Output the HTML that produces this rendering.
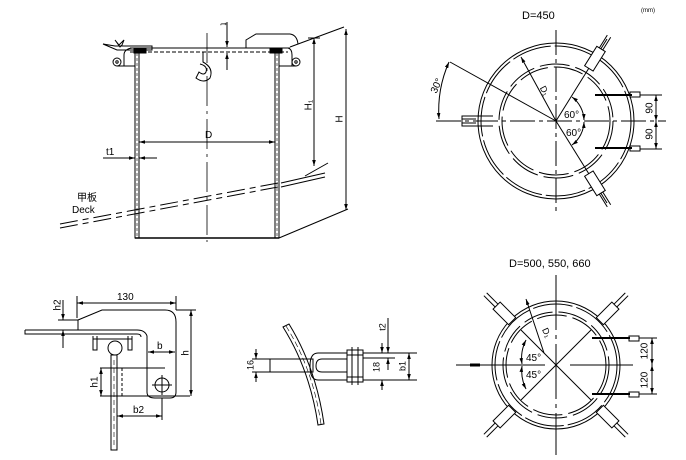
<!DOCTYPE html>
<html><head><meta charset="utf-8"><style>
html,body{margin:0;padding:0;background:#fff;}
svg{display:block;}
text{font-family:"Liberation Sans","Noto Sans CJK SC",sans-serif;fill:#000;}
.r{text-anchor:middle;dominant-baseline:middle;}
</style></head><body>
<svg width="686" height="460" viewBox="0 0 686 460" xmlns="http://www.w3.org/2000/svg">
<defs>
<marker id="a" viewBox="0 0 10 10" refX="10" refY="5" markerWidth="6" markerHeight="6" orient="auto-start-reverse"><path d="M0,2 L10,5 L0,8 z" fill="#000"/></marker>
</defs>
<g stroke="#000" fill="none" stroke-width="1">
<text x="641" y="12" font-size="6" stroke="none">(mm)</text>
<!-- lid -->
<path d="M124,66 L124,55 Q124,49 132,48 L288,48 Q292,49 292,55 L292,66"/>
<line x1="130" y1="52" x2="288" y2="52" stroke-dasharray="4,2"/>
<line x1="130" y1="48" x2="290" y2="48"/>
<rect x="134" y="49" width="12" height="4" fill="#000"/>
<rect x="270" y="49" width="12" height="4" fill="#000"/>
<path d="M103,44 L117,50 L152,50 L152,46 L115,46 Z"/>
<path d="M115,40 L119,45 L124,40 L122,45 L120,47 Z"/>
<circle cx="117" cy="62" r="4"/><circle cx="117" cy="62" r="1.2"/>
<line x1="117" y1="66" x2="136" y2="66"/>
<circle cx="296" cy="62" r="4"/><circle cx="296" cy="62" r="1.2"/>
<line x1="276" y1="66" x2="296" y2="66"/>
<path d="M246,48 L246,40 L256,34 L290,34 Q297,35 298,44"/>
<rect x="135" y="53" width="4" height="185" fill="#fff"/>
<line x1="137" y1="53" x2="137" y2="238" stroke-dasharray="3,2" stroke-width="0.6"/>
<rect x="275" y="53" width="4" height="185" fill="#fff"/>
<line x1="277" y1="53" x2="277" y2="238" stroke-dasharray="3,2" stroke-width="0.6"/>
<line x1="135" y1="238" x2="279" y2="238" stroke-width="1.5"/>
<line x1="207" y1="33" x2="207" y2="242" stroke-dasharray="30,5,3,5" stroke-width="0.8"/>
<path d="M203,52 L203,62 Q214,68 210,78 Q204,84 196,78 L199,72 Q204,76 206,72 Q208,66 200,64"/>
<line x1="227" y1="22" x2="227" y2="47" marker-end="url(#a)"/>
<line x1="227" y1="70" x2="227" y2="53" marker-end="url(#a)"/>
<text class="r" x="223" y="24" font-size="9" stroke="none" transform="rotate(90 223 24)">t</text>
<line x1="139" y1="142" x2="275" y2="142" marker-start="url(#a)" marker-end="url(#a)"/>
<text x="205" y="138" font-size="10" stroke="none">D</text>
<line x1="103" y1="158" x2="135" y2="158" marker-end="url(#a)"/>
<line x1="157" y1="158" x2="139" y2="158" marker-end="url(#a)"/>
<text x="106" y="155" font-size="10" stroke="none">t1</text>
<line x1="290" y1="47" x2="344" y2="27"/>
<line x1="308" y1="38" x2="320" y2="38"/>
<line x1="314" y1="38" x2="314" y2="166" marker-start="url(#a)" marker-end="url(#a)"/>
<line x1="305" y1="176" x2="328" y2="163"/>
<line x1="346" y1="29" x2="346" y2="210" marker-start="url(#a)" marker-end="url(#a)"/>
<line x1="279" y1="238" x2="348" y2="209"/>
<text class="r" x="309" y="105" font-size="10" stroke="none" transform="rotate(-90 309 105)">H₁</text>
<text class="r" x="340" y="119" font-size="10" stroke="none" transform="rotate(-90 340 119)">H</text>
<line x1="60" y1="224" x2="278" y2="183" stroke-dasharray="18,5,6,5"/>
<line x1="60" y1="228" x2="278" y2="187" stroke-dasharray="18,5,6,5"/>
<line x1="281" y1="183" x2="325" y2="173"/>
<line x1="281" y1="187" x2="325" y2="177"/>
<text x="77" y="201" font-size="10" stroke="none">甲板</text>
<text x="72" y="213" font-size="10" stroke="none">Deck</text>

<!-- Circle D=450 -->
<text x="522" y="19" font-size="11" stroke="none">D=450</text>
<circle cx="556" cy="121" r="78"/>
<circle cx="556" cy="121" r="75" stroke-dasharray="40,4"/>
<circle cx="556" cy="121" r="57" stroke-dasharray="30,6"/>
<circle cx="556" cy="121" r="54" stroke-dasharray="30,6"/>
<line x1="436" y1="121" x2="666" y2="121" stroke-dasharray="25,4,4,4"/>
<line x1="556" y1="30" x2="556" y2="212" stroke-dasharray="25,4,4,4"/>
<line x1="556" y1="121" x2="450" y2="62"/>
<line x1="556" y1="121" x2="521" y2="57" marker-end="url(#a)"/>
<text class="r" x="544" y="91" font-size="9" stroke="none" transform="rotate(62 544 91)">D₁</text>
<path d="M449,62 A120,120 0 0 0 439,119" marker-start="url(#a)" marker-end="url(#a)"/>
<text class="r" x="437" y="86" font-size="10" stroke="none" transform="rotate(-65 437 86)">30°</text>
<line x1="556" y1="121" x2="607" y2="39"/>
<line x1="556" y1="121" x2="607" y2="203"/>
<path d="M572,97 A30,30 0 0 1 584,120" marker-start="url(#a)" marker-end="url(#a)"/>
<path d="M584,122 A30,30 0 0 1 572,145" marker-start="url(#a)" marker-end="url(#a)"/>
<text x="564" y="118" font-size="10" stroke="none">60°</text>
<text x="566" y="136" font-size="10" stroke="none">60°</text>
<path d="M493,116 L462,116 L462,126 L493,126"/><line x1="462" y1="119" x2="476" y2="119"/><line x1="462" y1="123" x2="476" y2="123"/>
<g transform="rotate(-58 556 121)"><rect x="618" y="116" width="23" height="10" fill="#fff"/><line x1="641" y1="119" x2="656" y2="119"/><line x1="641" y1="123" x2="656" y2="123"/></g>
<g transform="rotate(58 556 121)"><rect x="618" y="116" width="23" height="10" fill="#fff"/><line x1="641" y1="119" x2="656" y2="119"/><line x1="641" y1="123" x2="656" y2="123"/></g>
<line x1="595" y1="95" x2="632" y2="95" stroke-width="2"/><rect x="630" y="92" width="10" height="5"/>
<line x1="595" y1="148" x2="632" y2="148" stroke-width="2"/><rect x="630" y="146" width="10" height="5"/>
<line x1="640" y1="95" x2="662" y2="95"/><line x1="640" y1="149" x2="662" y2="149"/>
<line x1="656" y1="95" x2="656" y2="121" marker-start="url(#a)" marker-end="url(#a)"/>
<line x1="656" y1="121" x2="656" y2="149" marker-start="url(#a)" marker-end="url(#a)"/>
<text class="r" x="650" y="108" font-size="10" stroke="none" transform="rotate(-90 650 108)">90</text>
<text class="r" x="650" y="134" font-size="10" stroke="none" transform="rotate(-90 650 134)">90</text>

<!-- Circle D=500 -->
<text x="509" y="267" font-size="11" stroke="none">D=500, 550, 660</text>
<circle cx="556" cy="365" r="64"/>
<circle cx="556" cy="365" r="61" stroke-dasharray="40,4"/>
<circle cx="556" cy="365" r="53" stroke-dasharray="30,6"/>
<circle cx="556" cy="365" r="50" stroke-dasharray="30,6"/>
<line x1="456" y1="365" x2="480" y2="365"/><line x1="470" y1="365" x2="480" y2="365" stroke-width="3"/>
<line x1="480" y1="365" x2="545" y2="365"/>
<line x1="570" y1="365" x2="633" y2="365"/>
<line x1="556" y1="275" x2="556" y2="455" stroke-dasharray="55,5,4,5"/>
<line x1="521" y1="330" x2="591" y2="400"/><line x1="521" y1="400" x2="591" y2="330"/>
<line x1="544" y1="353" x2="526" y2="299" marker-end="url(#a)"/>
<text class="r" x="546" y="333" font-size="9" stroke="none" transform="rotate(65 546 333)">D₁</text>
<path d="M526,340 A40,40 0 0 0 522,364" marker-start="url(#a)" marker-end="url(#a)"/>
<path d="M522,366 A40,40 0 0 0 526,389" marker-start="url(#a)" marker-end="url(#a)"/>
<text x="526" y="361" font-size="10" stroke="none">45°</text>
<text x="526" y="378" font-size="10" stroke="none">45°</text>
<g transform="rotate(-135 556 365)"><rect x="618" y="360" width="22" height="10" fill="#fff"/><line x1="640" y1="363" x2="656" y2="363"/><line x1="640" y1="367" x2="656" y2="367"/></g>
<g transform="rotate(-45 556 365)"><rect x="618" y="360" width="22" height="10" fill="#fff"/><line x1="640" y1="363" x2="656" y2="363"/><line x1="640" y1="367" x2="656" y2="367"/></g>
<g transform="rotate(135 556 365)"><rect x="618" y="360" width="22" height="10" fill="#fff"/><line x1="640" y1="363" x2="656" y2="363"/><line x1="640" y1="367" x2="656" y2="367"/></g>
<g transform="rotate(45 556 365)"><rect x="618" y="360" width="22" height="10" fill="#fff"/><line x1="640" y1="363" x2="656" y2="363"/><line x1="640" y1="367" x2="656" y2="367"/></g>
<line x1="592" y1="338" x2="630" y2="338" stroke-width="2"/><rect x="629" y="336" width="10" height="5"/>
<line x1="592" y1="394" x2="630" y2="394" stroke-width="2"/><rect x="629" y="392" width="10" height="5"/>
<line x1="639" y1="338" x2="657" y2="338"/><line x1="639" y1="394" x2="657" y2="394"/>
<line x1="652" y1="338" x2="652" y2="365" marker-start="url(#a)" marker-end="url(#a)"/>
<line x1="652" y1="365" x2="652" y2="394" marker-start="url(#a)" marker-end="url(#a)"/>
<text class="r" x="645" y="351" font-size="10" stroke="none" transform="rotate(-90 645 351)">120</text>
<text class="r" x="645" y="380" font-size="10" stroke="none" transform="rotate(-90 645 380)">120</text>

<!-- Bracket detail -->
<path d="M25,330 L137,330 Q145,330 147,336 L147,392 Q147,398 155,398 L170,398 Q176,398 176,392 L176,322 Q176,310 165,310 L102,310 L78,320 L78,330"/>
<path d="M25,330 L25,334 L137,334 Q141,334 141,337"/>
<circle cx="162" cy="385" r="7"/>
<line x1="152" y1="385" x2="172" y2="385"/><line x1="162" y1="375" x2="162" y2="395"/>
<path d="M93,336 L93,350 L97,350 L97,336 M128,336 L128,350 L132,350 L132,336"/>
<line x1="93" y1="339" x2="132" y2="339"/>
<circle cx="115" cy="348" r="7"/>
<rect x="111" y="355" width="6" height="95" fill="#fff"/>
<line x1="114" y1="360" x2="114" y2="445" stroke-dasharray="5,3" stroke-width="0.6"/>
<line x1="100" y1="368" x2="165" y2="368"/>
<line x1="122" y1="368" x2="122" y2="396" stroke-dasharray="3,2"/>
<line x1="100" y1="396" x2="190" y2="396"/>
<line x1="77" y1="296" x2="77" y2="318"/><line x1="176" y1="296" x2="176" y2="310"/>
<line x1="77" y1="303" x2="176" y2="303" marker-start="url(#a)" marker-end="url(#a)"/>
<text x="117" y="300" font-size="10" stroke="none">130</text>
<line x1="176" y1="310" x2="196" y2="310"/>
<line x1="191" y1="310" x2="191" y2="396" marker-start="url(#a)" marker-end="url(#a)"/>
<text class="r" x="186" y="353" font-size="10" stroke="none" transform="rotate(-90 186 353)">h</text>
<line x1="148" y1="352" x2="175" y2="352" marker-start="url(#a)" marker-end="url(#a)"/>
<text x="157" y="349" font-size="10" stroke="none">b</text>
<line x1="117" y1="416" x2="162" y2="416" marker-start="url(#a)" marker-end="url(#a)"/>
<line x1="162" y1="398" x2="162" y2="420"/>
<text x="133" y="413" font-size="10" stroke="none">b2</text>
<line x1="101" y1="368" x2="101" y2="396" marker-start="url(#a)" marker-end="url(#a)"/>
<text class="r" x="95" y="382" font-size="10" stroke="none" transform="rotate(-90 95 382)">h1</text>
<line x1="58" y1="320" x2="78" y2="320"/>
<line x1="63" y1="300" x2="63" y2="320" marker-end="url(#a)"/>
<line x1="63" y1="348" x2="63" y2="330" marker-end="url(#a)"/>
<text class="r" x="58" y="305" font-size="10" stroke="none" transform="rotate(-90 58 305)">h2</text>

<!-- Hinge detail -->
<path d="M283,327 Q310,370 318,425 L324,424 Q316,368 289,324 Z" fill="#fff"/>
<path d="M286,326 Q313,369 321,424" stroke-dasharray="6,3" stroke-width="0.6"/>
<rect x="270" y="359" width="43" height="13" fill="none"/>
<path d="M348,353 L318,353 Q310,353 310,366 Q310,380 318,380 L348,380"/>
<path d="M348,359 L322,359 Q316,359 316,366 Q316,372 322,372 L348,372"/>
<rect x="347" y="350" width="16" height="32" fill="#fff"/>
<line x1="352" y1="347" x2="352" y2="385"/><line x1="358" y1="347" x2="358" y2="385"/>
<line x1="347" y1="355" x2="363" y2="355"/><line x1="347" y1="377" x2="363" y2="377"/>
<line x1="252" y1="359" x2="270" y2="359"/><line x1="252" y1="372" x2="270" y2="372"/>
<line x1="256" y1="349" x2="256" y2="359" marker-end="url(#a)"/>
<line x1="256" y1="382" x2="256" y2="372" marker-end="url(#a)"/>
<text class="r" x="251" y="365" font-size="9" stroke="none" transform="rotate(-90 251 365)">16</text>
<line x1="363" y1="353" x2="417" y2="353"/><line x1="363" y1="380" x2="417" y2="380"/>
<line x1="363" y1="358" x2="395" y2="358"/>
<line x1="382" y1="343" x2="382" y2="353" marker-end="url(#a)"/>
<line x1="382" y1="390" x2="382" y2="380" marker-end="url(#a)"/>
<text class="r" x="377" y="367" font-size="9" stroke="none" transform="rotate(-90 377 367)">18</text>
<line x1="388" y1="318" x2="388" y2="353" marker-end="url(#a)"/>
<line x1="388" y1="370" x2="388" y2="358" marker-end="url(#a)"/>
<text class="r" x="383" y="327" font-size="9" stroke="none" transform="rotate(-90 383 327)">t2</text>
<line x1="409" y1="353" x2="409" y2="380" marker-start="url(#a)" marker-end="url(#a)"/>
<text class="r" x="403" y="366" font-size="9" stroke="none" transform="rotate(-90 403 366)">b1</text>
</g>
</svg>
</body></html>
